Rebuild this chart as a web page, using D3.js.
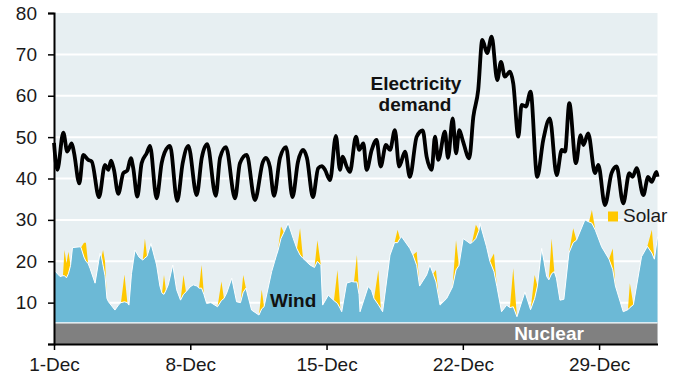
<!DOCTYPE html>
<html><head><meta charset="utf-8">
<script src="https://cdn.jsdelivr.net/npm/d3@7"></script>
<style>
html,body{margin:0;padding:0;background:#fff;}
svg text{font-family:"Liberation Sans",Arial,Helvetica,sans-serif;}
</style></head>
<body>
<svg id="chart" width="678" height="379"></svg>
<script>
// ---- data (days since 1-Dec 00:00, GW) ----
const demandDay = [0,0.17,0.48,0.68,0.91,1.03,1.30,1.50,1.76,1.94,
2.31,2.62,2.79,2.93,3.08,3.30,3.56,3.76,3.95,4.07,
4.28,4.50,4.76,4.93,5.27,5.53,5.87,5.96,6.33,6.61,
6.90,7.33,7.59,7.87,8.31,8.53,8.83,9.30,9.55,9.90,
10.32,10.73,10.89,11.09,11.30,11.61,11.92,12.25,12.53,12.79,
12.99,13.30,13.57,13.76,13.92,14.18,14.48,14.69,14.83,15.03,
15.20,15.51,15.68,15.89,16.06,16.32,16.57,16.78,17.05,17.26,
17.51,17.73,18.03,18.28,18.63,18.94,19.14,19.40,19.57,19.74,
20.08,20.24,20.48,20.65,20.82,20.99,21.33,21.54,21.79,22.00,
22.25,22.48,22.77,22.96,23.16,23.42,23.59,23.85,24.02,24.24,
24.48,24.82,25.13,25.47,25.82,26.08,26.25,26.47,26.81,27.05,
27.19,27.44,27.79,27.96,28.30,28.64,28.90,29.24,29.55,29.72,
29.93,30.27,30.52,30.70,30.95,31.0];
const demandGW = [48.6,42.1,51.1,46.5,48.5,46.2,38.8,45.7,44.5,44.1,
35.5,43.3,42.1,44.3,42.1,36.3,41.3,41.9,44.9,42.5,
35.6,43.7,46.1,47.9,35.2,43.7,47.7,47.9,34.6,43.7,
47.9,36.0,45.0,48.3,35.8,45.0,47.6,35.2,43.7,45.7,
34.8,44.0,45.0,42.8,35.8,45.0,47.6,35.5,44.0,46.9,
45.0,35.5,42.5,43.0,42.1,39.6,50.3,42.1,45.3,42.9,
41.6,50.1,46.9,48.5,42.1,46.9,49.3,42.9,48.1,46.9,
51.7,42.9,46.5,40.4,50.1,51.6,45.3,42.1,50.1,44.5,
51.3,45.0,54.5,46.1,51.7,49.3,44.9,54.9,61.4,73.5,
70.3,74.3,63.8,68.2,64.6,65.8,63.0,50.1,57.8,57.4,
61.0,40.4,49.3,54.5,40.8,46.9,46.5,58.2,43.7,50.5,
48.1,50.9,41.3,43.3,33.6,41.3,42.9,34.0,41.3,40.4,
42.5,36.0,40.4,39.2,41.6,40.4];

const renewDay = [0,0.31,0.46,0.54,0.64,0.74,0.85,0.95,1.34,1.39,
1.54,1.64,1.75,1.85,2.11,2.36,2.44,2.52,2.62,2.72,
2.80,3.13,3.34,3.44,3.62,3.77,3.85,3.98,4.16,4.37,
4.56,4.67,4.78,4.98,5.27,5.44,5.55,5.65,5.75,5.87,
6.10,6.30,6.50,6.65,6.78,6.99,7.15,7.34,7.45,7.58,
7.70,7.84,8.06,8.40,8.60,8.73,8.87,9.13,9.38,9.58,
9.72,9.86,10.15,10.53,10.67,10.79,11.18,11.43,11.50,11.66,
11.81,12.03,12.29,12.48,12.64,12.79,13.15,13.38,13.53,13.71,
13.80,14.09,14.38,14.56,14.71,14.78,15.03,15.29,15.41,15.56,
15.67,15.72,16.14,16.31,16.44,16.66,16.79,16.88,17.26,17.49,
17.65,17.77,17.86,18.28,18.44,18.63,18.78,19.14,19.31,19.47,
19.62,19.77,19.83,20.17,20.47,20.65,20.80,21.02,21.37,21.47,
21.67,21.83,21.88,22.22,22.39,22.60,22.75,22.99,23.25,23.42,
23.59,23.78,24.19,24.48,24.69,24.83,25.05,25.31,25.42,25.56,
25.70,25.81,25.99,26.19,26.45,26.67,26.84,27.27,27.48,27.63,
27.81,28.13,28.51,28.70,28.84,29.24,29.48,29.58,29.76,30.18,
30.48,30.71,30.84,31.0];
const windGW = [12.8,11.2,11.4,11.4,10.9,11.9,13.9,18.2,18.4,18.2,
15.9,14.9,14.4,13.2,9.6,16.8,15.9,13.9,11.4,5.9,
5.1,3.1,4.5,4.9,5.1,4.9,4.3,11.9,17.6,15.9,
15.2,15.7,16.1,19.2,14.0,8.9,7.2,6.9,7.9,9.2,
14.0,8.0,5.5,6.9,7.5,8.7,9.2,8.9,8.4,8.4,
6.9,4.7,4.9,3.9,5.4,5.9,7.2,10.8,5.1,4.9,
7.4,8.4,3.1,1.9,3.4,3.9,12.4,16.4,17.4,20.4,
21.9,24.1,20.4,17.9,16.4,15.6,14.0,13.4,14.9,13.9,
4.3,6.7,5.4,4.7,3.4,2.7,9.6,10.0,9.9,9.9,
6.9,2.7,8.8,7.9,5.9,4.4,3.4,2.7,16.4,19.4,
19.4,20.4,20.8,18.0,16.4,13.9,8.9,11.6,14.0,11.9,
9.9,5.9,4.3,5.9,8.7,12.8,13.9,20.4,19.2,19.4,
20.4,22.4,24.1,18.4,14.9,12.4,8.8,2.7,4.3,3.7,
3.9,1.5,7.5,3.2,5.9,8.9,18.0,11.2,10.4,11.9,
12.4,10.8,5.5,5.7,16.9,19.4,20.0,24.9,24.4,24.1,
22.4,18.4,15.4,12.9,8.9,2.7,3.2,3.7,4.4,16.0,
18.5,16.9,15.4,20.8];
const solarGW = [0,0,0,6.2,3.5,5.3,0,0,0,0,
3.5,4.5,0,0,0,0,0,3.7,3.5,0,
0,0,0,0,6.6,0,0,0,0,0,
0,4.7,0,0,0,0,0,4.7,0,0,
0,0,0,4.7,0,0,0,0,0,5.6,
0,0,0,0,4.6,0,0,0,0,0,
4.2,0,0,0,4.6,0,0,0,0,2.9,
0,0,0,0,6.5,0,0,0,5.1,0,
0,0,0,8.1,0,0,0,0,0,6.5,
0,0,0,0,0,8.4,0,0,0,0,
3.1,0,0,0,0,3.3,0,0,0,0,
2.9,0,0,0,0,7.2,0,0,0,0,
3.3,0,0,0,0,4.4,0,0,0,0,
9.3,0,0,0,5.7,0,0,0,0,8.5,
0,0,0,0,0,3.5,0,0,0,3.2,
0,0,0,5.1,0,0,0,5.9,0,0,
0,5.6,0,0];
const nuclearDay = [0, 31];
const nuclearGW = [5.1, 5.1];

const tickDays = [0, 7, 14, 21, 28];
const tickLabels = ["1-Dec", "8-Dec", "15-Dec", "22-Dec", "29-Dec"];
const yTicks = [0, 10, 20, 30, 40, 50, 60, 70, 80];

// ---- layout ----
const L = 54, R = 657.5, T = 13, B = 344;
const svg = d3.select("#chart");
const x = d3.scaleLinear().domain([0, 31]).range([L, R]);
const y = d3.scaleLinear().domain([0, 80]).range([B, T]);
const nuc = d3.scaleLinear().domain(nuclearDay).range(nuclearGW);

svg.append("rect").attr("x", L).attr("y", T).attr("width", R - L).attr("height", B - T).attr("fill", "#e7eff2");

svg.append("g").selectAll("line").data(yTicks.filter(v => v > 0 && v < 80)).join("line")
  .attr("x1", L).attr("x2", R).attr("y1", d => y(d)).attr("y2", d => y(d))
  .attr("stroke", "#fff").attr("stroke-width", 2);

const rows = renewDay.map((d, i) => ({d, n: nuc(d), w: windGW[i], s: solarGW[i]}));

// nuclear
svg.append("path").datum(nuclearDay.map((d, i) => ({d, v: nuclearGW[i]})))
  .attr("fill", "#808080")
  .attr("d", d3.area().x(p => x(p.d)).y0(y(0)).y1(p => y(p.v)));
// solar (on top of wind)
svg.append("path").datum(rows).attr("fill", "#ffc800")
  .attr("d", d3.area().x(p => x(p.d)).y0(p => y(p.n + p.w)).y1(p => y(p.n + p.w + p.s)));
// wind
svg.append("path").datum(rows).attr("fill", "#6cb9d6")
  .attr("d", d3.area().x(p => x(p.d)).y0(p => y(p.n)).y1(p => y(p.n + p.w)));
// white outlines
svg.append("path").datum(rows).attr("fill", "none").attr("stroke", "#fff").attr("stroke-width", 1)
  .attr("d", d3.line().x(p => x(p.d)).y(p => y(p.n + p.w)));
svg.append("path").datum(nuclearDay.map((d, i) => ({d, v: nuclearGW[i]})))
  .attr("fill", "none").attr("stroke", "#fff").attr("stroke-width", 1.2)
  .attr("d", d3.line().x(p => x(p.d)).y(p => y(p.v)));

// demand
svg.append("path").datum(demandDay.map((d, i) => ({d, v: demandGW[i]})))
  .attr("fill", "none").attr("stroke", "#000").attr("stroke-width", 3.8)
  .attr("stroke-linejoin", "round")
  .attr("d", d3.line().x(p => x(p.d)).y(p => y(p.v)).curve(d3.curveMonotoneX));

// axes
const yAxis = svg.append("g").attr("transform", `translate(${L},0)`)
  .call(d3.axisLeft(y).tickValues(yTicks).tickSize(6).tickFormat(v => v === 0 ? "" : v));
yAxis.select(".domain").attr("stroke", "#000").attr("stroke-width", 2);
yAxis.selectAll(".tick line").attr("stroke", "#000").attr("stroke-width", 1.5);
yAxis.selectAll(".tick text").attr("font-size", 19).attr("fill", "#1a1a1a").attr("x", -17)
  .attr("font-family", "'Liberation Sans', Arial, sans-serif");

const xAxis = svg.append("g").attr("transform", `translate(0,${B})`)
  .call(d3.axisBottom(x).tickValues(tickDays).tickSize(6).tickSizeOuter(0).tickFormat((d, i) => tickLabels[i]));
xAxis.select(".domain").attr("stroke", "#000").attr("stroke-width", 2);
xAxis.selectAll(".tick line").attr("stroke", "#000").attr("stroke-width", 1.5);
xAxis.selectAll(".tick text").attr("font-size", 19).attr("fill", "#1a1a1a").attr("dy", "0.95em")
  .attr("font-family", "'Liberation Sans', Arial, sans-serif");

// labels
const lab = svg.append("g").attr("font-family", "'Liberation Sans', Arial, sans-serif");
lab.append("text").attr("x", 416).attr("y", 90).attr("text-anchor", "middle").attr("font-size", 19)
  .attr("font-weight", "bold").attr("fill", "#111").text("Electricity");
lab.append("text").attr("x", 415).attr("y", 111).attr("text-anchor", "middle").attr("font-size", 19)
  .attr("font-weight", "bold").attr("fill", "#111").text("demand");
lab.append("text").attr("x", 270).attr("y", 307).attr("font-size", 19)
  .attr("font-weight", "bold").attr("fill", "#111").text("Wind");
lab.append("text").attr("x", 549).attr("y", 340).attr("text-anchor", "middle").attr("font-size", 19)
  .attr("font-weight", "bold").attr("fill", "#fff").text("Nuclear");
lab.append("rect").attr("x", 608).attr("y", 211.5).attr("width", 10).attr("height", 10).attr("fill", "#ffc800");
lab.append("text").attr("x", 623).attr("y", 222).attr("font-size", 19).attr("fill", "#1a1a1a").text("Solar");
</script>
</body></html>
